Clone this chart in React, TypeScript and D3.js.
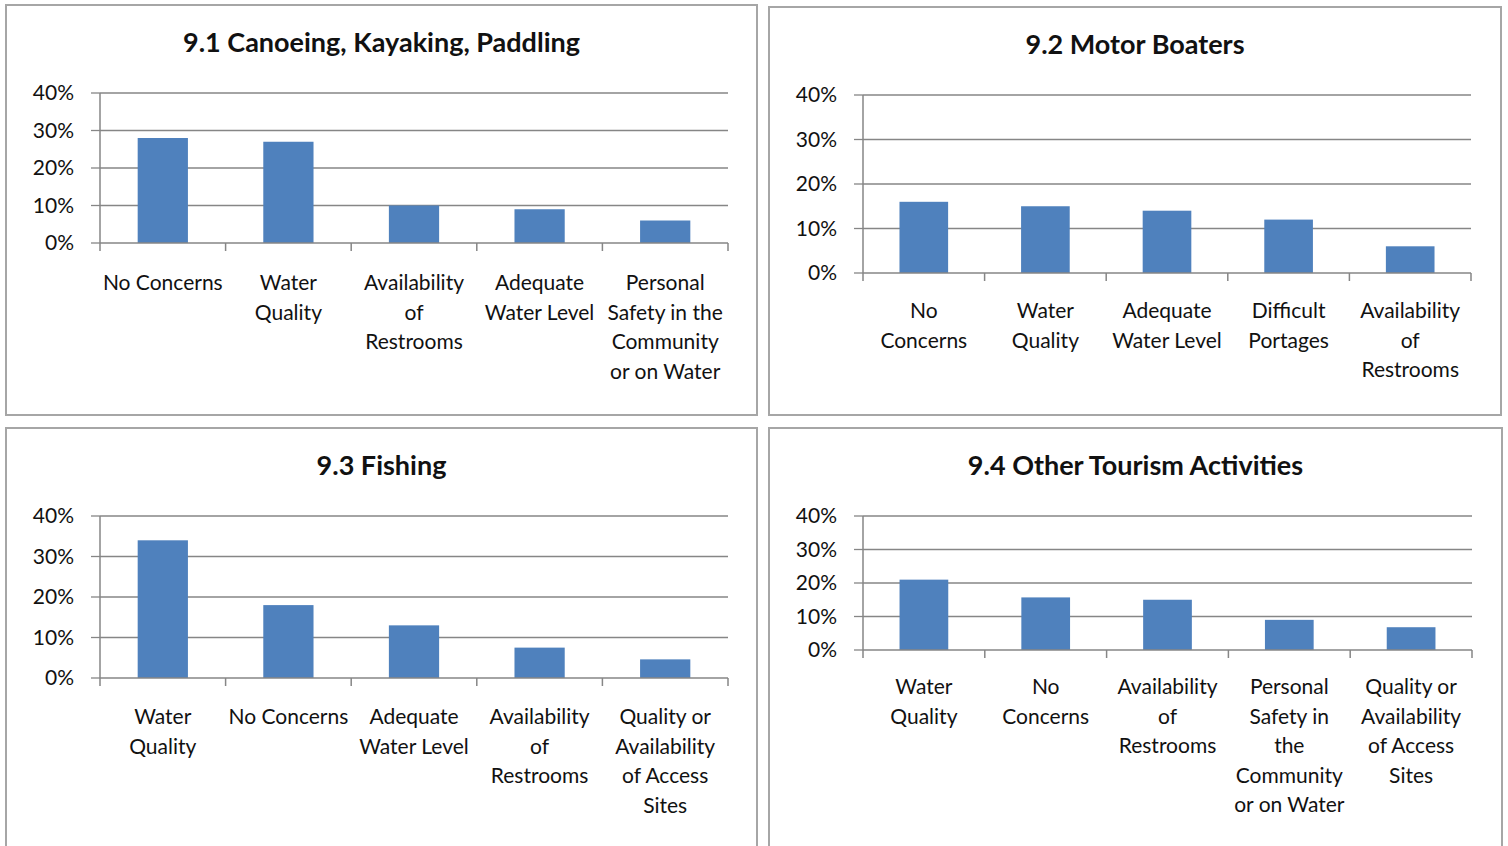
import React from "react";
import * as d3 from "d3";

// Chart data
const canoeCategories = ["No Concerns", "Water\nQuality", "Availability\nof\nRestrooms", "Adequate\nWater Level", "Personal\nSafety in the\nCommunity\nor on Water"];
const canoeValues = [0.28, 0.27, 0.10, 0.09, 0.06];

const motorCategories = ["No\nConcerns", "Water\nQuality", "Adequate\nWater Level", "Difficult\nPortages", "Availability\nof\nRestrooms"];
const motorValues = [0.16, 0.15, 0.14, 0.12, 0.06];

const fishingCategories = ["Water\nQuality", "No Concerns", "Adequate\nWater Level", "Availability\nof\nRestrooms", "Quality or\nAvailability\nof Access\nSites"];
const fishingValues = [0.34, 0.18, 0.13, 0.075, 0.046];

const otherCategories = ["Water\nQuality", "No\nConcerns", "Availability\nof\nRestrooms", "Personal\nSafety in\nthe\nCommunity\nor on Water", "Quality or\nAvailability\nof Access\nSites"];
const otherValues = [0.21, 0.157, 0.15, 0.09, 0.068];

const yTicks = [0, 0.1, 0.2, 0.3, 0.4];

const BAR = "#4F81BD";
const GRID = "#868686";
const FONT = "Lato, 'Open Sans', sans-serif";

interface PanelProps {
  title: string;
  categories: string[];
  values: number[];
  box: { x: number; y: number; w: number; h: number };
  plot: { left: number; right: number; top: number; bottom: number };
  titleY: number;
  labelY: number;
}

const Panel = ({ title, categories, values, box, plot, titleY, labelY }: PanelProps) => {
  const x = d3.scaleBand<string>()
    .domain(categories)
    .range([plot.left, plot.right])
    .paddingInner(0.6)
    .paddingOuter(0.3);
  const y = d3.scaleLinear().domain([0, 0.4]).range([plot.bottom, plot.top]);
  const step = x.step();
  const offset = (step - x.bandwidth()) / 2;
  const bounds = categories.map(c => (x(c) as number) - offset).concat([plot.right]);
  const fmt = d3.format(".0%");

  return (
    <g>
      <rect x={box.x} y={box.y} width={box.w} height={box.h} fill="#fff" stroke="#a6a6a6" strokeWidth={2} />
      <text x={box.x + box.w / 2} y={titleY} textAnchor="middle" dy="0.35em"
        fontFamily={FONT} fontWeight="bold" fontSize={27} fill="#111">{title}</text>

      {/* grid lines */}
      {yTicks.filter(t => t > 0).map(t => (
        <line key={t} x1={plot.left} x2={plot.right} y1={y(t)} y2={y(t)} stroke={GRID} strokeWidth={1.3} />
      ))}

      {/* bars */}
      {categories.map((c, i) => (
        <rect key={c} x={x(c)} y={y(values[i])} width={x.bandwidth()} height={plot.bottom - y(values[i])} fill={BAR} />
      ))}

      {/* axes */}
      <line x1={plot.left} x2={plot.left} y1={plot.top} y2={plot.bottom} stroke={GRID} strokeWidth={1.5} />
      <line x1={plot.left} x2={plot.right} y1={plot.bottom} y2={plot.bottom} stroke={GRID} strokeWidth={1.5} />
      {yTicks.map(t => (
        <g key={t}>
          <line x1={plot.left - 9} x2={plot.left} y1={y(t)} y2={y(t)} stroke={GRID} strokeWidth={1.3} />
          <text x={plot.left - 26} y={y(t)} dy="0.35em" textAnchor="end"
            fontFamily={FONT} fontSize={21} fill="#111">{fmt(t)}</text>
        </g>
      ))}
      {bounds.map((b, i) => (
        <line key={i} x1={b} x2={b} y1={plot.bottom} y2={plot.bottom + 8} stroke={GRID} strokeWidth={1.5} />
      ))}

      {/* category labels */}
      {categories.map(c => (
        <text key={c} textAnchor="middle" fontFamily={FONT} fontSize={21} fill="#111">
          {c.split("\n").map((line, j) => (
            <tspan key={j} x={(x(c) as number) + x.bandwidth() / 2} y={labelY + j * 29.5} dy="0.35em">{line}</tspan>
          ))}
        </text>
      ))}
    </g>
  );
};

export default function App() {
  return (
    <svg width={1508} height={846} style={{ position: "fixed", left: 0, top: 0, background: "#fff" }}>
      <rect width={1508} height={846} fill="#fff" />
      <Panel title="9.1 Canoeing, Kayaking, Paddling" categories={canoeCategories} values={canoeValues}
        box={{ x: 6, y: 5, w: 751, h: 410 }} plot={{ left: 100, right: 728, top: 93, bottom: 243 }}
        titleY={43} labelY={283} />
      <Panel title="9.2 Motor Boaters" categories={motorCategories} values={motorValues}
        box={{ x: 769, y: 7, w: 732, h: 408 }} plot={{ left: 863, right: 1471, top: 95, bottom: 273 }}
        titleY={45} labelY={311} />
      <Panel title="9.3 Fishing" categories={fishingCategories} values={fishingValues}
        box={{ x: 6, y: 428, w: 751, h: 440 }} plot={{ left: 100, right: 728, top: 516, bottom: 678 }}
        titleY={466} labelY={717} />
      <Panel title="9.4 Other Tourism Activities" categories={otherCategories} values={otherValues}
        box={{ x: 769, y: 428, w: 733, h: 440 }} plot={{ left: 863, right: 1472, top: 516, bottom: 650 }}
        titleY={466} labelY={687} />
    </svg>
  );
}
